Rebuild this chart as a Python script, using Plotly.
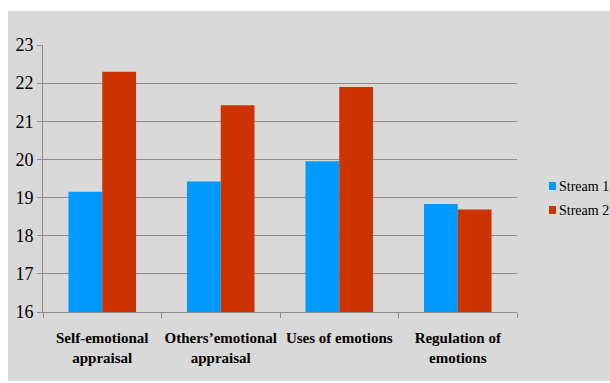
import plotly.graph_objects as go

categories = ["Self-emotional<br>appraisal", "Others\u2019emotional<br>appraisal",
              "Uses of emotions", "Regulation of<br>emotions"]
series_names = ["Stream 1", "Stream 2"]
stream1 = [19.15, 19.42, 19.95, 18.83]
stream2 = [22.30, 21.42, 21.90, 18.69]
y_ticks = [16, 17, 18, 19, 20, 21, 22, 23]
colors = ["#0099ff", "#cc3300"]

W, H = 610, 383
L, R, T, B = 43, 93, 45, 71
pw, ph = W - L - R, H - T - B
FONT = "Liberation Serif, Times New Roman, serif"


def px_x(x):
    return (x - L) / pw


def px_y(y):
    return (T + ph - y) / ph


fig = go.Figure()
for name, vals, col in zip(series_names, [stream1, stream2], colors):
    fig.add_trace(go.Bar(name=name, x=categories, y=vals,
                         marker=dict(color=col, line=dict(width=0))))

# grey chart panel behind everything
fig.add_shape(type="rect", xref="paper", yref="paper", layer="below",
              x0=px_x(8), x1=px_x(W + 5), y0=px_y(H - 2), y1=px_y(11),
              fillcolor="#d9d9d9", line=dict(width=0))

# legend entries
for i, (name, col) in enumerate(zip(series_names, colors)):
    yc = 186 + i * 24
    fig.add_shape(type="rect", xref="paper", yref="paper",
                  x0=px_x(549), x1=px_x(556), y0=px_y(yc + 4), y1=px_y(yc - 4),
                  fillcolor=col, line=dict(width=0))
    fig.add_annotation(xref="paper", yref="paper", x=px_x(557), y=px_y(yc),
                       xanchor="left", yanchor="middle", showarrow=False,
                       text=name, font=dict(family=FONT, size=14, color="black"))

fig.update_layout(
    width=W, height=H,
    margin=dict(l=L, r=R, t=T, b=B, pad=0, autoexpand=False),
    paper_bgcolor="white", plot_bgcolor="rgba(0,0,0,0)",
    barmode="group", bargap=0.43, bargroupgap=0,
    font=dict(family=FONT, color="black"),
    showlegend=False,
)
fig.update_yaxes(range=[16, 23], tickvals=y_ticks, showgrid=True,
                 gridcolor="#8c8c8c", gridwidth=1, zeroline=False,
                 showline=True, linecolor="#8c8c8c", linewidth=1,
                 ticks="outside", ticklen=5, tickcolor="#8c8c8c",
                 tickfont=dict(family=FONT, size=18, color="black"))
fig.update_xaxes(showline=True, linecolor="#8c8c8c", linewidth=1,
                 ticks="outside", ticklen=5, tickcolor="#8c8c8c",
                 tickson="boundaries", showgrid=False,
                 ticklabelstandoff=12,
                 tickfont=dict(family=FONT, size=15, color="black"),
                 tickangle=0)
fig.for_each_xaxis(lambda a: a.update(ticktext=[f"<b>{c}</b>" for c in categories],
                                      tickvals=categories))

fig.write_html("out.html")
